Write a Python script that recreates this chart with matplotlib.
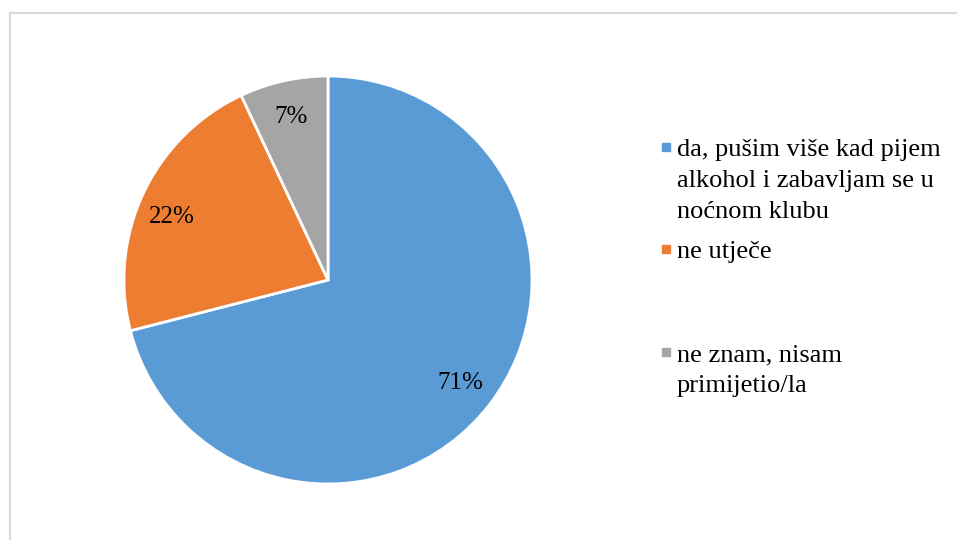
import matplotlib
matplotlib.use("Agg")
import matplotlib.pyplot as plt
from matplotlib.lines import Line2D
from matplotlib.patches import Rectangle

labels = ["da, pušim više kad pijem\nalkohol i zabavljam se u\nnoćnom klubu",
          "ne utječe",
          "ne znam, nisam\nprimijetio/la"]
values = [71, 22, 7]
colors = ["#5B9BD5", "#ED7D31", "#A5A5A5"]

W, H = 957, 540
fig = plt.figure(figsize=(W / 100, H / 100), dpi=100)
plt.rcParams['font.family'] = ['Liberation Serif', 'DejaVu Serif']

# border (top and left only visible)
fig.add_artist(Line2D([9.5 / W, 1.0], [1 - 12.5 / H, 1 - 12.5 / H], color="#d9d9d9", lw=1.5,
                      transform=fig.transFigure))
fig.add_artist(Line2D([9.5 / W, 9.5 / W], [0, 1 - 12.5 / H], color="#d9d9d9", lw=1.5,
                      transform=fig.transFigure))

ax = fig.add_axes([124 / W, 1 - 484 / H, 408 / W, 408 / H])
wedges, texts, autotexts = ax.pie(values, colors=colors, startangle=90, counterclock=False,
                                  autopct=lambda p: f"{p:.0f}%", pctdistance=0.82,
                                  wedgeprops=dict(edgecolor="white", linewidth=2),
                                  textprops=dict(fontsize=18, color="#000000"))
# Excel places the 22% label a bit lower
autotexts[1].set_position((-0.765, 0.31))
ax.set_xlim(-1, 1)
ax.set_ylim(-1, 1)
ax.set_aspect("equal")
ax.axis("off")

# legend
first_baseline_y = [158, 260, 363]
for lab, col, y in zip(labels, colors, first_baseline_y):
    fig.add_artist(Rectangle((661.5 / W, 1 - (y - 7) / H), 8 / W, 8 / H, color=col,
                             transform=fig.transFigure))
    fig.text(677 / W, 1 - (y - 19) / H, lab, fontsize=19, va="top", ha="left",
             linespacing=1.53, color="#000000")

fig.savefig("out.png", dpi=100)
